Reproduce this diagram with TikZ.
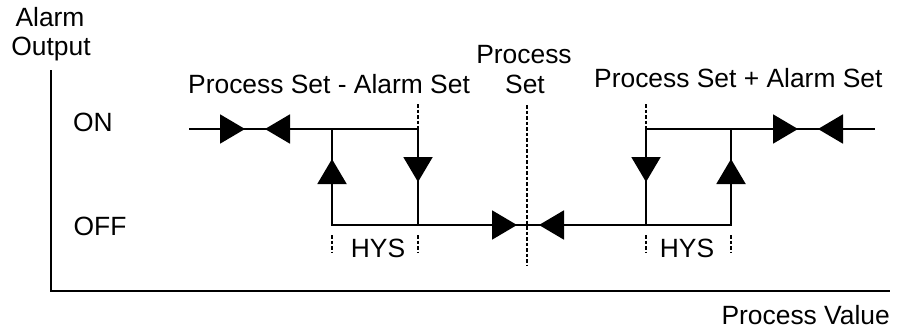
\documentclass[tikz,border=0pt]{standalone}
\usepackage{fontspec}
\setmainfont{Liberation Sans}
\usetikzlibrary{arrows.meta}
\begin{document}
\begin{tikzpicture}[x=1pt,y=-1pt,
  lbl/.style={inner sep=0pt,font=\fontsize{26.4}{30}\selectfont},
  axis/.style={line width=2pt},
  wire/.style={line width=2pt,line join=miter},
  tipline/.style={line width=2pt,-{Triangle[length=25pt 0 0,width=29pt 0 0]}},
  guide/.style={line width=1.6pt,dash pattern=on 3.5pt off 2pt}]
\useasboundingbox (0,0) rectangle (903,332);
% axes
\coordinate (ytop) at (51,70);
\coordinate (orig) at (51,291);
\coordinate (xend) at (890,291);
\draw[axis] (ytop) -- (orig) -- (xend);
% labels
\node[lbl,anchor=base] (alarm) at (50,27) {Alarm};
\node[lbl,anchor=base] (output) at (51,56) {Output};
\node[lbl,anchor=base] (on) at (93,131) {ON};
\node[lbl,anchor=base] (off) at (100,235) {OFF};
\node[lbl,anchor=base west] (psm) at (188,93) {Process Set - Alarm Set};
\node[lbl,anchor=base] (ps1) at (524,63) {Process};
\node[lbl,anchor=base] (ps2) at (525,93) {Set};
\node[lbl,anchor=base west] (psp) at (594,87) {Process Set + Alarm Set};
\node[lbl,anchor=base] (hys1) at (378,257) {HYS};
\node[lbl,anchor=base] (hys2) at (687,257) {HYS};
\node[lbl,anchor=base east] (pv) at (890,324) {Process Value};
% key points
\coordinate (onL) at (189,129);
\coordinate (a1) at (332,129);
\coordinate (b1) at (418,129);
\coordinate (a0) at (332,225);
\coordinate (b0) at (418,225);
\coordinate (c0) at (646,225);
\coordinate (d0) at (731,225);
\coordinate (c1) at (646,129);
\coordinate (d1) at (731,129);
\coordinate (onR) at (875,129);
% hysteresis lines
\draw[wire] (onL) -- (b1) -- (b0);
\draw[wire] (a1) -- (a0) -- (d0) -- (d1);
\draw[wire] (c0) -- (c1) -- (onR);
% arrowheads
\draw[tipline] (200,129) -- (245,129);
\draw[tipline] (310,129) -- (265,129);
\draw[tipline] (332,205) -- (332,159);
\draw[tipline] (418,140) -- (418,182);
\draw[tipline] (470,225) -- (517,225);
\draw[tipline] (590,225) -- (539,225);
\draw[tipline] (646,140) -- (646,182);
\draw[tipline] (731,205) -- (731,159);
\draw[tipline] (750,129) -- (798,129);
\draw[tipline] (865,129) -- (818,129);
% dashed guides
\coordinate (psTop) at (527,105);
\coordinate (psBot) at (527,265);
\draw[guide] (psTop) -- (psBot);
\draw[guide] (418,104) -- (b1);
\draw[guide] (646,104) -- (c1);
\draw[guide] (332,235) -- (332,253);
\draw[guide] (418,235) -- (418,253);
\draw[guide] (646,235) -- (646,253);
\draw[guide] (731,235) -- (731,253);
\end{tikzpicture}
\end{document}
